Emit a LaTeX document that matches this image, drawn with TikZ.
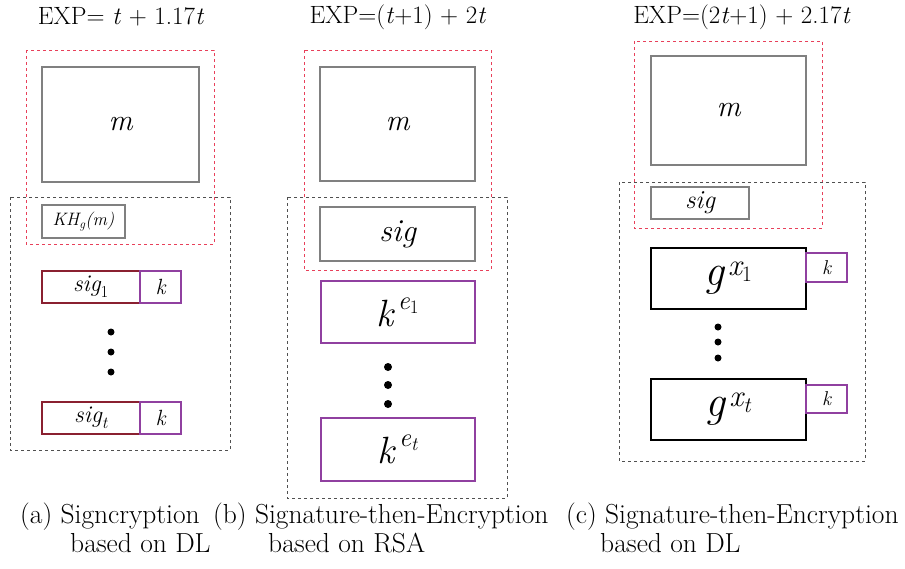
\documentclass[tikz,border=0pt]{standalone}
\usepackage{amsmath}
\usepackage{fontspec}
\definecolor{rdash}{HTML}{E8405A}
\definecolor{kdash}{HTML}{505050}
\definecolor{gbord}{HTML}{808080}
\definecolor{sigred}{HTML}{8A2030}
\definecolor{purp}{HTML}{9040A0}
\begin{document}
\begin{tikzpicture}[x=1pt,y=-1pt,
  reddash/.style={draw=rdash,line width=1pt,dash pattern=on 3pt off 3pt},
  blackdash/.style={draw=kdash,line width=1pt,dash pattern=on 3pt off 3pt},
  plainbox/.style={draw=gbord,line width=1.3pt,rectangle,inner sep=0pt},
  sigbox/.style={draw=sigred,line width=2.2pt,rectangle,inner sep=0pt},
  kbox/.style={draw=purp,line width=2.2pt,rectangle,inner sep=0pt},
  gbox/.style={draw=black,line width=2.2pt,rectangle,inner sep=0pt},
  dot/.style={circle,fill=black,inner sep=0pt,minimum size=7pt},
  title/.style={font=\fontsize{25}{28}\selectfont,inner sep=0pt},
  captxt/.style={font=\fontsize{27.5}{30}\selectfont,inner sep=0pt,anchor=base west},
  wh/.style 2 args={minimum width=#1pt,minimum height=#2pt}]
\useasboundingbox (0,0) rectangle (905,568);
% ---------- panel (a)
\node[title] (ta) at (121,17) {EXP= \textit{t} + 1.17\textit{t}};
\draw[reddash] (26,50) rectangle (214,244);
\draw[blackdash] (10,197) rectangle (230,450);
\node[plainbox,wh={157}{115},font=\fontsize{30}{32}\selectfont\itshape] (am) at (120.5,124.5) {m};
\node[plainbox,wh={83}{33},font=\fontsize{18}{20}\selectfont] (akh) at (83.5,221.5) {$\textit{KH}_{\textit{g}}\textit{(m)}$};
\node[sigbox,wh={98}{32},font=\fontsize{24}{26}\selectfont] (as1) at (91,287) {$\textit{sig}_{\textrm{1}}$};
\node[kbox,wh={41}{32},font=\fontsize{22}{24}\selectfont\itshape] (ak1) at (160.5,287) {k};
\node[dot] (ad1) at (111,332) {};
\node[dot] (ad2) at (111,352) {};
\node[dot] (ad3) at (111,372) {};
\node[sigbox,wh={98}{32},font=\fontsize{24}{26}\selectfont] (ast) at (91,418) {$\textit{sig}_{\textit{t}}$};
\node[kbox,wh={41}{32},font=\fontsize{22}{24}\selectfont\itshape] (akt) at (160.5,418) {k};
% ---------- panel (b)
\node[title] (tb) at (398,17) {EXP=(\textit{t}+1) + 2\textit{t}};
\draw[reddash] (304,50) rectangle (491,270);
\draw[blackdash] (287,197) rectangle (507,498);
\node[plainbox,wh={155}{114},font=\fontsize{30}{32}\selectfont\itshape] (bm) at (397.5,124) {m};
\node[plainbox,wh={155}{54},font=\fontsize{32}{34}\selectfont\itshape] (bs) at (397.5,234) {sig};
\node[kbox,wh={154}{62},font=\fontsize{38}{40}\selectfont] (bk1) at (398,312) {$\textit{k}^{\,\textit{e}_{\textrm{1}}}$};
\node[dot,minimum size=8pt] (bd1) at (388,367) {};
\node[dot,minimum size=8pt] (bd2) at (388,385) {};
\node[dot,minimum size=8pt] (bd3) at (388,404) {};
\node[kbox,wh={154}{63},font=\fontsize{38}{40}\selectfont] (bkt) at (398,449.5) {$\textit{k}^{\,\textit{e}_{\textit{t}}}$};
% ---------- panel (c)
\node[title] (tc) at (742,17) {EXP=(2\textit{t}+1) + 2.17\textit{t}};
\draw[reddash] (634,41) rectangle (822,228);
\draw[blackdash] (619,182) rectangle (865,461);
\node[plainbox,wh={155}{109},font=\fontsize{30}{32}\selectfont\itshape] (cm) at (728.5,110.5) {m};
\node[plainbox,wh={98}{32},font=\fontsize{26}{28}\selectfont\itshape] (cs) at (700,203) {sig};
\node[gbox,wh={155}{61},font=\fontsize{44}{46}\selectfont] (cg1) at (728.5,278.5) {$\textit{g}^{\,\textit{x}_{\textrm{1}}}$};
\node[kbox,wh={41}{29},font=\fontsize{20}{22}\selectfont\itshape] (ck1) at (826.5,267.5) {k};
\node[dot,minimum size=7pt] (cd1) at (718,327) {};
\node[dot,minimum size=7pt] (cd2) at (718,342) {};
\node[dot,minimum size=7pt] (cd3) at (718,358) {};
\node[gbox,wh={155}{61},font=\fontsize{44}{46}\selectfont] (cgt) at (728.5,409.5) {$\textit{g}^{\,\textit{x}_{\textit{t}}}$};
\node[kbox,wh={41}{28},font=\fontsize{20}{22}\selectfont\itshape] (ckt) at (826.5,399) {k};
% ---------- captions
\node[captxt] (ca1) at (20,523) {(a) Signcryption};
\node[captxt] (ca2) at (70,552) {based on DL};
\node[captxt] (cb1) at (213,523) {(b) Signature-then-Encryption};
\node[captxt] (cb2) at (268,552) {based on RSA};
\node[captxt] (cc1) at (566,523) {(c) Signature-then-Encryption};
\node[captxt] (cc2) at (600,552) {based on DL};
\end{tikzpicture}
\end{document}
